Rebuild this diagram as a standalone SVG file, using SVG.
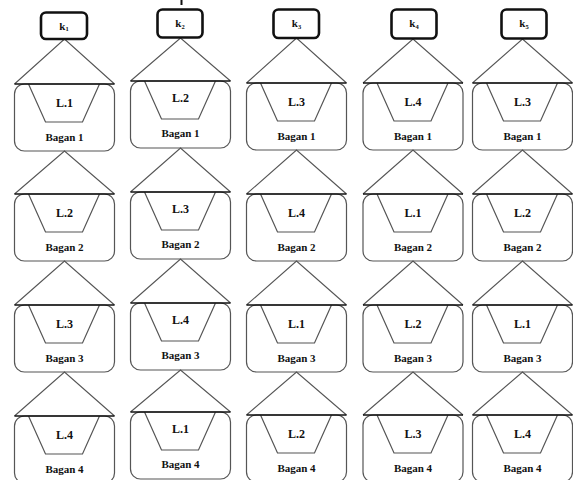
<svg xmlns="http://www.w3.org/2000/svg" width="573" height="480" viewBox="0 0 573 480" font-family="Liberation Serif, DejaVu Serif, Times New Roman, serif">
<style>
.bg{fill:#fff}
.hdr{fill:#fff;stroke:#111;stroke-width:2.6}
.cell{fill:#fff;stroke:#555;stroke-width:1.2}
.trap{fill:none;stroke:#555;stroke-width:1.2}
.side{fill:none;stroke:#555;stroke-width:1.1}
.base{fill:none;stroke:#111;stroke-width:1.5}
.t{font-family:'Liberation Serif','DejaVu Serif','Times New Roman',serif;font-weight:bold;fill:#111;text-anchor:middle}
.lab{font-size:12px}
.bag{font-size:11px}
.k{font-size:11px}
.sub{font-size:6.5px}
</style>
<defs>
<g id="cellshape">
<rect class="cell" x="-50" y="0" width="100" height="67" rx="10"/>
<path class="trap" d="M-36,0 L-19,38 L18,38 L35,0"/>
</g>
</defs>
<rect class="bg" x="0" y="0" width="573" height="480"/>
<line x1="181.5" y1="0" x2="181.5" y2="5" stroke="#111" stroke-width="2"/>

<g id="cells">
<g id="c1r1" transform="translate(64.5,84)"><use href="#cellshape"/><text class="t lab" x="0" y="23">L.1</text><text class="t bag" x="0" y="57">Bagan 1</text></g>
<g id="c1r2" transform="translate(64.5,194)"><use href="#cellshape"/><text class="t lab" x="0" y="23">L.2</text><text class="t bag" x="0" y="57">Bagan 2</text></g>
<g id="c1r3" transform="translate(64.5,305)"><use href="#cellshape"/><text class="t lab" x="0" y="23">L.3</text><text class="t bag" x="0" y="57">Bagan 3</text></g>
<g id="c1r4" transform="translate(64.5,416)"><use href="#cellshape"/><text class="t lab" x="0" y="23">L.4</text><text class="t bag" x="0" y="57">Bagan 4</text></g>
<g id="c2r1" transform="translate(180.5,81)"><use href="#cellshape"/><text class="t lab" x="0" y="21">L.2</text><text class="t bag" x="0" y="56">Bagan 1</text></g>
<g id="c2r2" transform="translate(180.5,192)"><use href="#cellshape"/><text class="t lab" x="0" y="21">L.3</text><text class="t bag" x="0" y="56">Bagan 2</text></g>
<g id="c2r3" transform="translate(180.5,303)"><use href="#cellshape"/><text class="t lab" x="0" y="21">L.4</text><text class="t bag" x="0" y="56">Bagan 3</text></g>
<g id="c2r4" transform="translate(180.5,412)"><use href="#cellshape"/><text class="t lab" x="0" y="21">L.1</text><text class="t bag" x="0" y="56">Bagan 4</text></g>
<g id="c3r1" transform="translate(296.5,83)"><use href="#cellshape"/><text class="t lab" x="0" y="23">L.3</text><text class="t bag" x="0" y="57">Bagan 1</text></g>
<g id="c3r2" transform="translate(296.5,194)"><use href="#cellshape"/><text class="t lab" x="0" y="23">L.4</text><text class="t bag" x="0" y="57">Bagan 2</text></g>
<g id="c3r3" transform="translate(296.5,305)"><use href="#cellshape"/><text class="t lab" x="0" y="23">L.1</text><text class="t bag" x="0" y="57">Bagan 3</text></g>
<g id="c3r4" transform="translate(296.5,415)"><use href="#cellshape"/><text class="t lab" x="0" y="23">L.2</text><text class="t bag" x="0" y="57">Bagan 4</text></g>
<g id="c4r1" transform="translate(413,83)"><use href="#cellshape"/><text class="t lab" x="0" y="23">L.4</text><text class="t bag" x="0" y="57">Bagan 1</text></g>
<g id="c4r2" transform="translate(413,194)"><use href="#cellshape"/><text class="t lab" x="0" y="23">L.1</text><text class="t bag" x="0" y="57">Bagan 2</text></g>
<g id="c4r3" transform="translate(413,305)"><use href="#cellshape"/><text class="t lab" x="0" y="23">L.2</text><text class="t bag" x="0" y="57">Bagan 3</text></g>
<g id="c4r4" transform="translate(413,415)"><use href="#cellshape"/><text class="t lab" x="0" y="23">L.3</text><text class="t bag" x="0" y="57">Bagan 4</text></g>
<g id="c5r1" transform="translate(522.5,83)"><use href="#cellshape"/><text class="t lab" x="0" y="23">L.3</text><text class="t bag" x="0" y="57">Bagan 1</text></g>
<g id="c5r2" transform="translate(522.5,194)"><use href="#cellshape"/><text class="t lab" x="0" y="23">L.2</text><text class="t bag" x="0" y="57">Bagan 2</text></g>
<g id="c5r3" transform="translate(522.5,305)"><use href="#cellshape"/><text class="t lab" x="0" y="23">L.1</text><text class="t bag" x="0" y="57">Bagan 3</text></g>
<g id="c5r4" transform="translate(522.5,415)"><use href="#cellshape"/><text class="t lab" x="0" y="23">L.4</text><text class="t bag" x="0" y="57">Bagan 4</text></g>
</g>

<g id="connectors">
<path class="side" d="M14.5,84 L64.5,39 L114.5,84"/><path class="base" d="M14.5,84 H114.5"/>
<path class="side" d="M14.5,194 L64.5,151 L114.5,194"/><path class="base" d="M14.5,194 H114.5"/>
<path class="side" d="M14.5,305 L64.5,261 L114.5,305"/><path class="base" d="M14.5,305 H114.5"/>
<path class="side" d="M14.5,416 L64.5,372 L114.5,416"/><path class="base" d="M14.5,416 H114.5"/>
<path class="side" d="M130.5,81 L180.5,38 L230.5,81"/><path class="base" d="M130.5,81 H230.5"/>
<path class="side" d="M130.5,192 L180.5,148 L230.5,192"/><path class="base" d="M130.5,192 H230.5"/>
<path class="side" d="M130.5,303 L180.5,259 L230.5,303"/><path class="base" d="M130.5,303 H230.5"/>
<path class="side" d="M130.5,412 L180.5,370 L230.5,412"/><path class="base" d="M130.5,412 H230.5"/>
<path class="side" d="M246.5,83 L296.5,38 L346.5,83"/><path class="base" d="M246.5,83 H346.5"/>
<path class="side" d="M246.5,194 L296.5,150 L346.5,194"/><path class="base" d="M246.5,194 H346.5"/>
<path class="side" d="M246.5,305 L296.5,261 L346.5,305"/><path class="base" d="M246.5,305 H346.5"/>
<path class="side" d="M246.5,415 L296.5,372 L346.5,415"/><path class="base" d="M246.5,415 H346.5"/>
<path class="side" d="M363,83 L413,39 L463,83"/><path class="base" d="M363,83 H463"/>
<path class="side" d="M363,194 L413,150 L463,194"/><path class="base" d="M363,194 H463"/>
<path class="side" d="M363,305 L413,261 L463,305"/><path class="base" d="M363,305 H463"/>
<path class="side" d="M363,415 L413,372 L463,415"/><path class="base" d="M363,415 H463"/>
<path class="side" d="M472.5,83 L522.5,39 L572.5,83"/><path class="base" d="M472.5,83 H572.5"/>
<path class="side" d="M472.5,194 L522.5,150 L572.5,194"/><path class="base" d="M472.5,194 H572.5"/>
<path class="side" d="M472.5,305 L522.5,261 L572.5,305"/><path class="base" d="M472.5,305 H572.5"/>
<path class="side" d="M472.5,415 L522.5,372 L572.5,415"/><path class="base" d="M472.5,415 H572.5"/>
</g>

<g id="k1"><rect class="hdr" x="41" y="12.5" width="46" height="26.5" rx="5"/><text class="t k" x="64" y="29.5">k<tspan class="sub" dy="1.5">1</tspan></text></g>
<g id="k2"><rect class="hdr" x="157.5" y="9.5" width="45" height="28" rx="5"/><text class="t k" x="180" y="27">k<tspan class="sub" dy="1.5">2</tspan></text></g>
<g id="k3"><rect class="hdr" x="273.5" y="9.5" width="45.5" height="28.5" rx="5"/><text class="t k" x="296.5" y="27">k<tspan class="sub" dy="1.5">3</tspan></text></g>
<g id="k4"><rect class="hdr" x="391.5" y="9.5" width="45" height="29" rx="5"/><text class="t k" x="414" y="27">k<tspan class="sub" dy="1.5">4</tspan></text></g>
<g id="k5"><rect class="hdr" x="501.5" y="9.5" width="45" height="29" rx="5"/><text class="t k" x="524" y="27">k<tspan class="sub" dy="1.5">5</tspan></text></g>
</svg>
